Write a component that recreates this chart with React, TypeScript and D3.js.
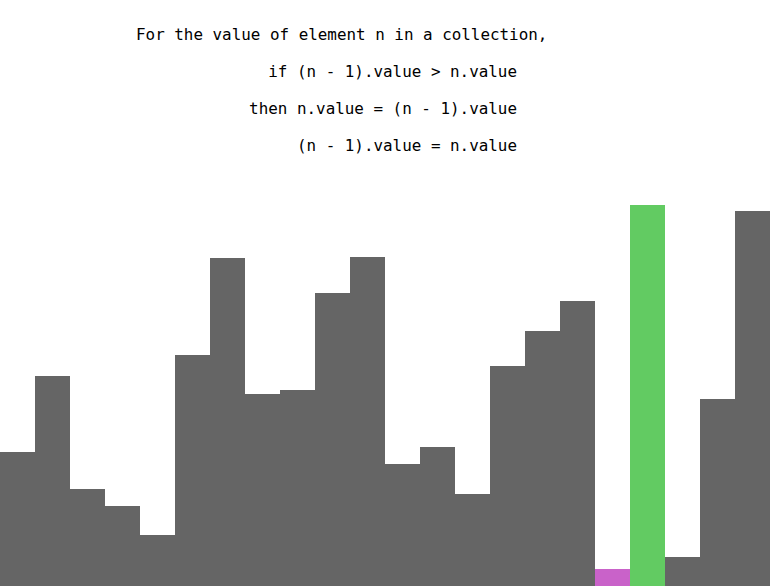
import { useMemo } from "react";
import * as d3 from "d3";

const WIDTH = 771;
const HEIGHT = 586;
const BAR_WIDTH = 35;

// bar values (pixel-height units)
const values = [134, 210, 97, 80, 51, 231, 328, 192, 196, 293, 329, 122, 139, 92, 220, 255, 285, 17, 381, 29, 187, 375];
// index 17 is the element being compared, index 18 the previous one being swapped
const COMPARE_INDEX = 17;
const SWAP_INDEX = 18;

const textLines = [
  "For the value of element n in a collection,",
  "if (n - 1).value > n.value",
  "then n.value = (n - 1).value",
  "(n - 1).value = n.value",
];

function barColor(i: number) {
  if (i === COMPARE_INDEX) return "#c962c9";
  if (i === SWAP_INDEX) return "#62cb62";
  return "#656565";
}

export default function App() {
  const xScale = useMemo(
    () =>
      d3
        .scaleBand<number>()
        .domain(values.map((_, i) => i))
        .range([0, values.length * BAR_WIDTH])
        .padding(0),
    []
  );
  const yScale = useMemo(
    () => d3.scaleLinear().domain([0, HEIGHT]).range([HEIGHT, 0]),
    []
  );

  const bars = values.map((v, i) => (
    <rect
      key={i}
      x={xScale(i)}
      y={yScale(v)}
      width={xScale.bandwidth()}
      height={HEIGHT - yScale(v)}
      fill={barColor(i)}
    />
  ));

  return (
    <svg
      width={WIDTH}
      height={HEIGHT}
      style={{ position: "absolute", left: 0, top: 0, background: "#fff" }}
    >
      <g
        fontFamily="'DejaVu Sans Mono', monospace"
        fontSize={15.9}
        fill="#000"
      >
        <text x={136} y={40}>{textLines[0]}</text>
        <text x={517} y={77} textAnchor="end">{textLines[1]}</text>
        <text x={517} y={114} textAnchor="end">{textLines[2]}</text>
        <text x={517} y={151} textAnchor="end">{textLines[3]}</text>
      </g>
      {bars}
    </svg>
  );
}
